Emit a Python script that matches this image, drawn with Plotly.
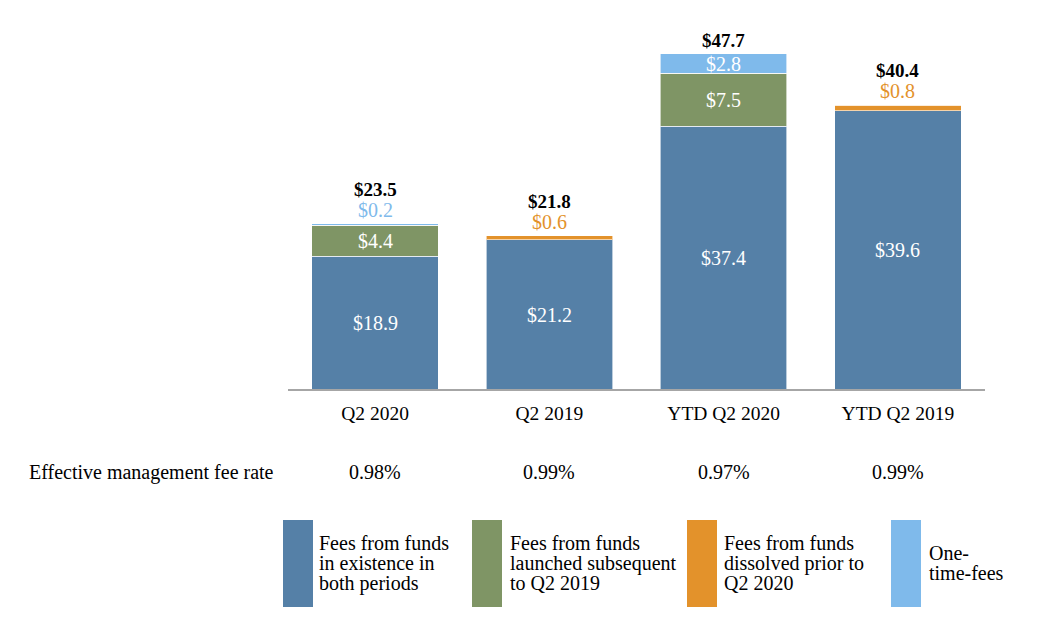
import plotly.graph_objects as go

# management fees, $ millions
periods = ["Q2 2020", "Q2 2019", "YTD Q2 2020", "YTD Q2 2019"]
existing_fees = [18.9, 21.2, 37.4, 39.6]
launched_fees = [4.4, 0, 7.5, 0]
dissolved_fees = [0, 0.6, 0, 0.8]
one_time_fees = [0.2, 0, 2.8, 0]
fee_rates = ["0.98%", "0.99%", "0.97%", "0.99%"]

series_names = [
    "Fees from funds<br>in existence in<br>both periods",
    "Fees from funds<br>launched subsequent<br>to Q2 2019",
    "Fees from funds<br>dissolved prior to<br>Q2 2020",
    "One-<br>time-fees",
]
series_values = [existing_fees, launched_fees, dissolved_fees, one_time_fees]
colors = ["#5580A7", "#7F9565", "#E3922B", "#7FBAEB"]

FONT = "Times New Roman, Liberation Serif, serif"
FS = 20

# page has an 8px body margin, so work in screen pixels and shift
OFF = 8
L, T = 288 - OFF, 20 - OFF
W, H = 1038, 625
axis_y = 389
pw = 985 - 288
ph = axis_y - 20
B = H - (axis_y - OFF)
R = W - L - pw
y_max = 52.5
px_per_unit = ph / y_max


def px(x):
    return (x - 288) / pw


def py(y):
    return (axis_y - y) / ph


fig = go.Figure()
for name, vals, col in zip(series_names, series_values, colors):
    fig.add_trace(go.Bar(x=periods, y=vals, name=name, marker_color=col,
                         marker_line=dict(color="rgba(255,255,255,0.6)", width=1),
                         showlegend=False))

totals = [round(sum(v), 1) for v in zip(*series_values)]

# segment labels
for i, p in enumerate(periods):
    base = 0
    top_thin = None
    for vals, col in zip(series_values, colors):
        v = vals[i]
        if v <= 0:
            continue
        if v * px_per_unit >= 18:
            fig.add_annotation(x=p, y=base + v / 2, text=f"${v:.1f}", showarrow=False,
                               font=dict(family=FONT, size=FS, color="white"))
        else:
            # segment too thin to hold its label: put it just above the bar
            top_thin = (v, col)
        base += v
    shift = 1
    if top_thin:
        fig.add_annotation(x=p, y=totals[i], text=f"${top_thin[0]:.1f}", showarrow=False,
                           yanchor="bottom", yshift=shift,
                           font=dict(family=FONT, size=FS, color=top_thin[1]))
        shift += 21
    fig.add_annotation(x=p, y=totals[i], text=f"<b>${totals[i]:.1f}</b>", showarrow=False,
                       yanchor="bottom", yshift=shift,
                       font=dict(family=FONT, size=FS - 1, color="black"))

# effective fee rate row
fig.add_annotation(x=px(27), y=py(472), xref="paper", yref="paper",
                   xanchor="left", yanchor="middle",
                   text="Effective management fee rate", showarrow=False,
                   font=dict(family=FONT, size=FS, color="black"))
for p, r in zip(periods, fee_rates):
    fig.add_annotation(x=p, y=py(472), yref="paper", yanchor="middle", text=r,
                       showarrow=False, font=dict(family=FONT, size=FS, color="black"))

# legend swatches drawn by hand
sw_x = [283, 472, 687, 891]
txt_x = [317, 508, 722, 927]
for name, col, sx, tx in zip(series_names, colors, sw_x, txt_x):
    fig.add_shape(type="rect", xref="paper", yref="paper",
                  x0=px(sx), x1=px(sx + 30), y0=py(520), y1=py(607),
                  fillcolor=col, line_width=0)
    lines = name.split("<br>")
    first = 563 - 10 * (len(lines) - 1)
    for k, line in enumerate(lines):
        fig.add_annotation(x=px(tx), y=py(first + 20 * k), xref="paper", yref="paper",
                           xanchor="left", yanchor="middle", text=line, showarrow=False,
                           font=dict(family=FONT, size=FS, color="black"))

fig.update_layout(
    barmode="stack",
    bargap=0.275,
    width=W, height=H,
    margin=dict(l=L, r=R, t=T, b=B),
    plot_bgcolor="white", paper_bgcolor="white",
    font=dict(family=FONT, size=FS, color="black"),
)
fig.update_xaxes(showline=True, linecolor="#A6A6A6", linewidth=1.5, ticks="",
                 ticklabelstandoff=6, tickfont=dict(family=FONT, size=19.5, color="black"),
                 showgrid=False, range=[-0.5, 3.5])
fig.update_yaxes(visible=False, range=[0, y_max])

fig.write_html("out.html")
